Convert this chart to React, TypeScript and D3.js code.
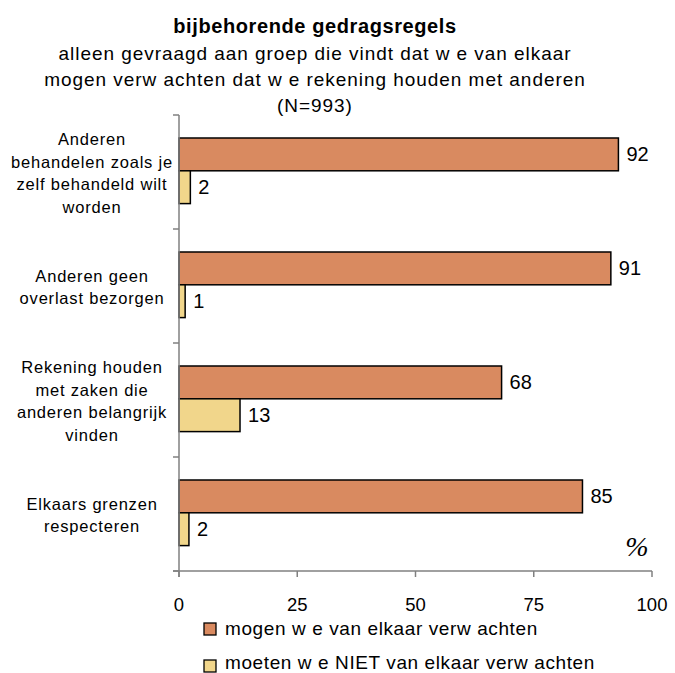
import React from "react";
import * as d3 from "d3";

// data
const categories = [
  ["Anderen", "behandelen zoals je", "zelf behandeld wilt", "worden"],
  ["Anderen geen", "overlast bezorgen"],
  ["Rekening houden", "met zaken die", "anderen belangrijk", "vinden"],
  ["Elkaars grenzen", "respecteren"],
];
const mogenValues = [92.9, 91.3, 68.2, 85.3];
const nietValues = [2.4, 1.3, 12.9, 2.1];
const mogenLabels = ["92", "91", "68", "85"];
const nietLabels = ["2", "1", "13", "2"];
const xTicks = [0, 25, 50, 75, 100];
const seriesNames = ["mogen w e van elkaar verw achten", "moeten w e NIET van elkaar verw achten"];
const titleLines = [
  "alleen gevraagd aan groep die vindt dat w e van elkaar",
  "mogen verw achten dat w e rekening houden met anderen",
  "(N=993)",
];

const W = 675, H = 673;
const colors = ["#D98A60", "#F1D68B"];
const font = "Liberation Sans, Arial, sans-serif";

const App: React.FC = () => {
  const x = d3.scaleLinear().domain([0, 100]).range([179, 652]);
  const y = d3.scaleBand<number>().domain(d3.range(categories.length)).range([115, 571]);
  const barH = 32.8;
  const off = 23;

  return (
    <svg width={W} height={H} style={{ position: "absolute", left: 0, top: 0 }} fontFamily={font}>
      <rect width={W} height={H} fill="#fff" />
      <text x={315} y={33} textAnchor="middle" fontSize={20} fontWeight="bold" letterSpacing={0.6}>bijbehorende gedragsregels</text>
      {titleLines.map((t, i) => (
        <text key={i} x={315} y={60 + i * 26} textAnchor="middle" fontSize={19} letterSpacing={0.95}>{t}</text>
      ))}

      {categories.map((_, i) => {
        const y0 = y(i)!;
        return (
          <g key={i}>
            <rect x={x(0)} y={y0 + off} width={x(mogenValues[i]) - x(0)} height={barH}
              fill={colors[0]} stroke="#000" strokeWidth={1.5} />
            <rect x={x(0)} y={y0 + off + barH} width={x(nietValues[i]) - x(0)} height={barH}
              fill={colors[1]} stroke="#000" strokeWidth={1.5} />
            <text x={x(mogenValues[i]) + 8} y={y0 + off + barH / 2 + 7} fontSize={20}>{mogenLabels[i]}</text>
            <text x={x(nietValues[i]) + 8} y={y0 + off + barH * 1.5 + 7} fontSize={20}>{nietLabels[i]}</text>
          </g>
        );
      })}

      {/* category labels */}
      {categories.map((lines, i) => {
        const cy = y(i)! + y.bandwidth() / 2 + 1;
        const lh = 22.5;
        return lines.map((l, j) => (
          <text key={i + "-" + j} x={92} y={cy + (j - (lines.length - 1) / 2) * lh + 6}
            textAnchor="middle" fontSize={16.5} letterSpacing={0.8}>{l}</text>
        ));
      })}

      {/* axes */}
      <line x1={x(0)} x2={x(0)} y1={y(0)!} y2={577} stroke="#808080" strokeWidth={1.5} />
      {d3.range(categories.length + 1).map((i) => {
        const yy = 115 + i * y.bandwidth();
        return <line key={i} x1={173} x2={x(0)} y1={yy} y2={yy} stroke="#808080" strokeWidth={1.5} />;
      })}
      <line x1={173} x2={x(100)} y1={571} y2={571} stroke="#808080" strokeWidth={1.5} />
      {xTicks.map((t) => (
        <g key={t}>
          <line x1={x(t)} x2={x(t)} y1={571} y2={577} stroke="#808080" strokeWidth={1.5} />
          <text x={x(t)} y={611} textAnchor="middle" fontSize={18.5}>{t}</text>
        </g>
      ))}
      <text x={637} y={556} textAnchor="middle" fontSize={28} fontStyle="italic" fontFamily="Liberation Serif, serif">%</text>

      {/* legend */}
      {seriesNames.map((s, i) => (
        <g key={s}>
          <rect x={204} y={623 + i * 37} width={12} height={12} fill={colors[i]} stroke="#000" strokeWidth={1.3} />
          <text x={225} y={635 + i * 34} fontSize={19} letterSpacing={0.6}>{s}</text>
        </g>
      ))}
    </svg>
  );
};

export default App;
